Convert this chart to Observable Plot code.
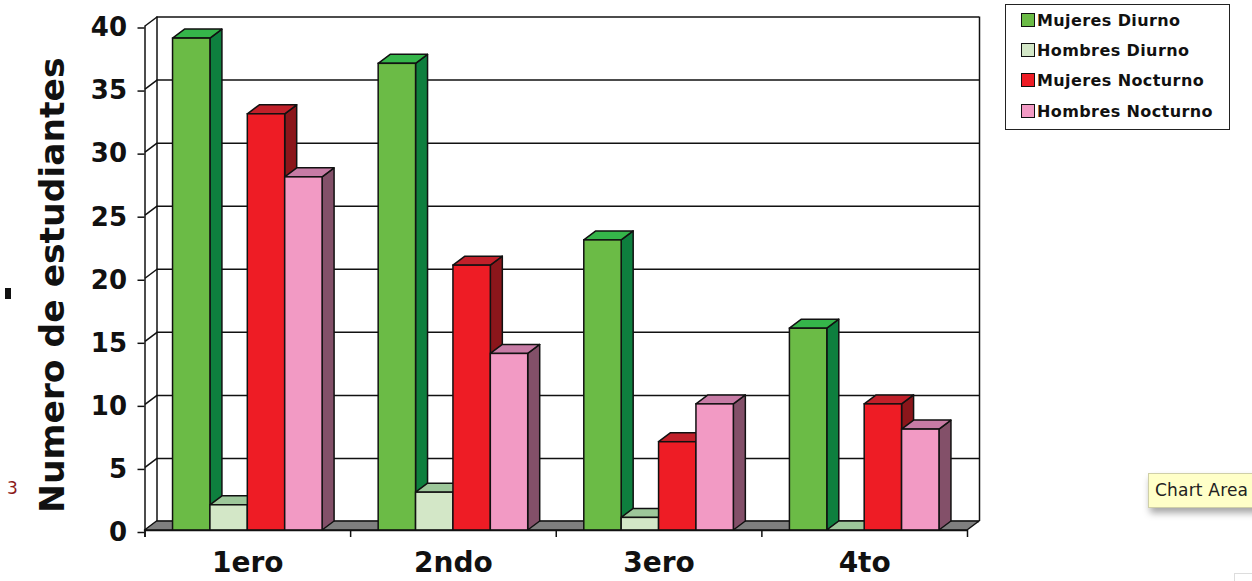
<!DOCTYPE html>
<html>
<head>
<meta charset="utf-8">
<script src="https://cdn.jsdelivr.net/npm/d3@7"></script>
<script src="https://cdn.jsdelivr.net/npm/@observablehq/plot@0.6"></script>
<style>
  html, body { margin: 0; padding: 0; background: #fff; overflow: hidden; }
  #page { position: relative; width: 1252px; height: 581px; overflow: hidden; font-family: "DejaVu Sans", Verdana, sans-serif; }
  #chart { position: absolute; left: 0; top: 0; }
  #legend { position: absolute; left: 1005px; top: 4px; width: 223px; height: 124px;
            border: 1.5px solid #222; background: #fff; }
  .row { position: absolute; left: 15px; height: 16px; display: flex; align-items: center;
         font-weight: bold; font-size: 16px; letter-spacing: 0.4px; color: #111; white-space: nowrap; }
  .sw { width: 12px; height: 12px; border: 1.2px solid #111; margin-right: 2px; }
  #tip { position: absolute; left: 1148px; top: 473px; width: 130px; height: 33px;
         background: #ffffc8; border: 1px solid #cfcfa8; box-shadow: 2px 5px 7px rgba(0,0,0,0.35);
         font-family: "DejaVu Sans", sans-serif; font-size: 17px; letter-spacing: 0.2px; color: #222; white-space: nowrap; }
  #tip span { position: absolute; left: 6px; top: 6px; }
  #mark3 { position: absolute; left: 7px; top: 478px; font-family: "DejaVu Sans", sans-serif;
           font-size: 17px; color: #8b1a1a; }
  #dash { position: absolute; left: 5px; top: 288px; width: 6px; height: 11px; background: #111; }
  #corner { position: absolute; left: 1234px; top: 573px; width: 30px; height: 20px; border: 1px solid #ddd; }
</style>
</head>
<body>
<div id="page">
  <div id="chart"></div>
  <div id="legend"></div>
  <div id="dash"></div>
  <div id="mark3">3</div>
  <div id="tip"><span>Chart Area</span></div>
  <div id="corner"></div>
</div>
<script>
// Course levels along the x axis
const categories = ["1ero", "2ndo", "3ero", "4to"];

// Series names
const seriesNames = ["Mujeres Diurno", "Hombres Diurno", "Mujeres Nocturno", "Hombres Nocturno"];

// Students per course, one array per series
const mujeresDiurno   = [39, 37, 23, 16];
const hombresDiurno   = [2, 3, 1, 0];
const mujeresNocturno = [33, 21, 7, 10];
const hombresNocturno = [28, 14, 10, 8];

// Value axis ticks
const yTicks = [0, 5, 10, 15, 20, 25, 30, 35, 40];

// Face colours per series: front, right side, top
const frontColors = ["#6bbb46", "#d3e7c7", "#ee1c25", "#f29ac4"];
const sideColors  = ["#0e7f3e", "#9ac48f", "#8b161b", "#835069"];
const topColors   = ["#35b54a", "#9dc79a", "#c1202a", "#c77ba5"];

const seriesValues = [mujeresDiurno, hombresDiurno, mujeresNocturno, hombresNocturno];

// Frame geometry (pixels)
const W = 1252, H = 581;
const frameLeft = 144.5, frameRight = 967, frameTop = 25.5, frameBottom = 530;
const nGroups = categories.length;
const yMax = 40;

// Depth of the 3D extrusion in pixels, converted to data units
const depthPx = 12, risePx = 9;
const DX = depthPx * nGroups / (frameRight - frameLeft);
const DY = risePx * yMax / (frameBottom - frameTop);
const tickLen = 7 * yMax / (frameBottom - frameTop);

// Bars: gap of 1.5 bar widths per group, split evenly on both sides
const slots = seriesNames.length + 1.5;
const bars = [];
categories.forEach((c, i) => {
  seriesNames.forEach((s, j) => {
    const x1 = i + (0.75 + j) / slots;
    const x2 = i + (1.75 + j) / slots;
    bars.push({id: `${i}-${j}`, category: c, series: s, value: seriesValues[j][i], x1, x2,
               front: frontColors[j], side: sideColors[j], top: topColors[j]});
  });
});

const sidePts = bars.flatMap(b => [
  {id: b.id, fill: b.side, x: b.x2,      y1: 0,  y2: b.value},
  {id: b.id, fill: b.side, x: b.x2 + DX, y1: DY, y2: b.value + DY}
]);
const topPts = bars.flatMap(b => [
  {id: b.id, fill: b.top, y: b.value,      x1: b.x1,      x2: b.x2},
  {id: b.id, fill: b.top, y: b.value + DY, x1: b.x1 + DX, x2: b.x2 + DX}
]);
const floorPts = [
  {y: 0,  x1: 0,  x2: nGroups},
  {y: DY, x1: DX, x2: nGroups + DX}
];
const boundaries = d3.range(0, nGroups + 1);

const edge = "#111";
const sw = 1.5;

const chart = Plot.plot({
  width: W,
  height: H,
  marginLeft: frameLeft,
  marginRight: W - frameRight,
  marginTop: frameTop,
  marginBottom: H - frameBottom,
  x: {domain: [0, nGroups], axis: null},
  y: {domain: [0, yMax], axis: null},
  color: {type: "identity"},
  style: {fontFamily: "'DejaVu Sans', Verdana, sans-serif", background: "transparent", color: "#111"},
  marks: [
    // back wall gridlines and edges
    Plot.ruleY(yTicks, {y: d => d + DY, x1: DX, x2: nGroups + DX, stroke: edge, strokeWidth: sw}),
    Plot.ruleX([DX, nGroups + DX], {y1: DY, y2: yMax + DY, stroke: edge, strokeWidth: sw}),
    // left wall: diagonals from the front axis to the back wall
    Plot.link(yTicks, {x1: 0, x2: DX, y1: d => d, y2: d => d + DY, stroke: edge, strokeWidth: sw}),
    // floor
    Plot.areaX(floorPts, {y: "y", x1: "x1", x2: "x2", fill: "#7f7f7f", stroke: edge, strokeWidth: sw}),
    // bars: right sides, tops, fronts
    Plot.areaY(sidePts, {x: "x", y1: "y1", y2: "y2", z: "id", fill: "fill", stroke: edge, strokeWidth: sw, strokeLinejoin: "round"}),
    Plot.areaX(topPts, {y: "y", x1: "x1", x2: "x2", z: "id", fill: "fill", stroke: edge, strokeWidth: sw, strokeLinejoin: "round"}),
    Plot.rect(bars, {x1: "x1", x2: "x2", y1: 0, y2: "value", fill: "front", stroke: edge, strokeWidth: sw}),
    // front value axis
    Plot.ruleX([0], {y1: -tickLen, y2: yMax, stroke: edge, strokeWidth: sw}),
    Plot.axisY({ticks: yTicks, tickSize: 7, tickPadding: 11, fontSize: 26, fontWeight: "bold",
                dy: 2, tickFormat: d => String(d), label: null, stroke: edge, strokeWidth: sw}),
    // category axis
    Plot.ruleY([0], {x1: 0, x2: nGroups, stroke: edge, strokeWidth: sw}),
    Plot.ruleX(boundaries, {y1: -tickLen, y2: 0, stroke: edge, strokeWidth: sw}),
    Plot.text(categories, {x: (d, i) => i + 0.5, y: 0, text: d => d, dy: 41, lineAnchor: "bottom",
                           fontSize: 28, fontWeight: "bold", fill: "#111"}),
    // value axis title
    Plot.text(["Numero de estudiantes"], {frameAnchor: "left", text: d => d, rotate: -90,
                                          textAnchor: "middle", lineAnchor: "bottom",
                                          dx: 63 - frameLeft, dy: 7,
                                          fontSize: 34.5, fontWeight: "bold", fill: "#111"})
  ]
});
document.getElementById("chart").appendChild(chart);

// Legend
const legend = document.getElementById("legend");
const rowTops = [7, 37, 67, 98];
seriesNames.forEach((s, j) => {
  const row = document.createElement("div");
  row.className = "row";
  row.style.top = (rowTops[j]) + "px";
  const swatch = document.createElement("div");
  swatch.className = "sw";
  swatch.style.background = frontColors[j];
  const label = document.createElement("span");
  label.textContent = s;
  row.appendChild(swatch);
  row.appendChild(label);
  legend.appendChild(row);
});
</script>
</body>
</html>
